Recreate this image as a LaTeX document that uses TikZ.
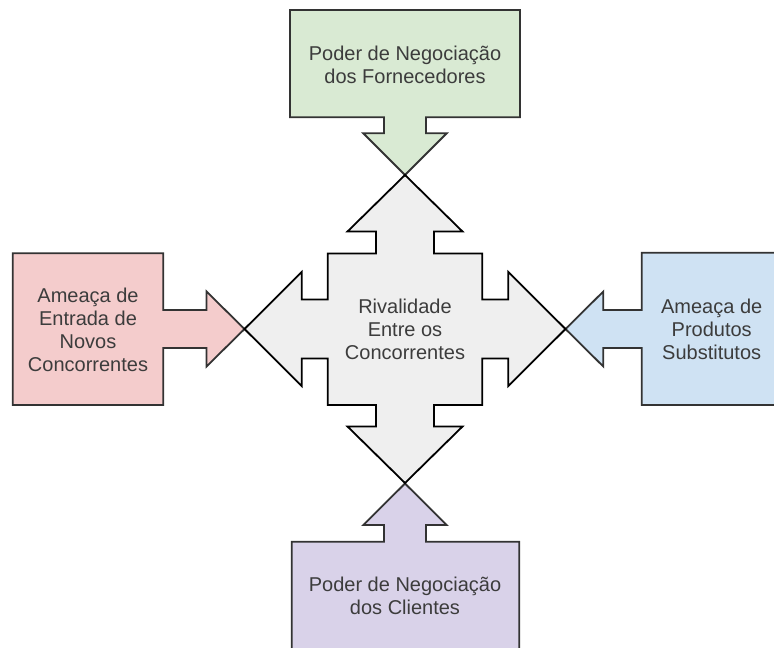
\documentclass[tikz,border=0pt]{standalone}
\usepackage{fontspec}
\setmainfont{Liberation Sans}
\definecolor{cgreen}{HTML}{D9EAD3}
\definecolor{cpink}{HTML}{F4CCCC}
\definecolor{cblue}{HTML}{CFE2F3}
\definecolor{cpurple}{HTML}{D9D2E9}
\definecolor{cgray}{HTML}{EFEFEF}
\definecolor{ctext}{HTML}{3C3C3C}
\definecolor{cedge}{HTML}{333333}
\tikzset{
  forcebox/.style={draw=cedge, line width=1.8pt, line join=miter},
  centershape/.style={draw=black, fill=cgray, line width=1.8pt, line join=miter},
  label/.style={text=ctext, align=center, font=\fontsize{20}{23}\selectfont, inner sep=0pt}
}
\begin{document}
\begin{tikzpicture}[x=1pt,y=-1pt]
\useasboundingbox (0,0) rectangle (774,648);
\begin{scope}
\clip (0,0) rectangle (774,648);
% top (green)
\path[forcebox, fill=cgreen] (290,10) -- (520,10) -- (520,117.3) -- (426,117.3) -- (426,133.3) -- (446.7,133.3) -- (405,175) -- (363.3,133.3) -- (384,133.3) -- (384,117.3) -- (290,117.3) -- cycle;
% bottom (purple)
\path[forcebox, fill=cpurple] (405,483.5) -- (446.7,525) -- (426,525) -- (426,541.7) -- (519.3,541.7) -- (519.3,670) -- (291.7,670) -- (291.7,541.7) -- (384,541.7) -- (384,525) -- (363.3,525) -- cycle;
% left (pink)
\path[forcebox, fill=cpink] (12.7,253.3) -- (163.3,253.3) -- (163.3,310) -- (206.5,310) -- (206.5,291.5) -- (244.5,329) -- (206.5,366.5) -- (206.5,348) -- (163.3,348) -- (163.3,405) -- (12.7,405) -- cycle;
% right (blue)
\path[forcebox, fill=cblue] (641.7,252.7) -- (800,252.7) -- (800,405) -- (641.7,405) -- (641.7,348) -- (603.3,348) -- (603.3,366.5) -- (565.5,329) -- (603.3,291.5) -- (603.3,310) -- (641.7,310) -- cycle;
% center shape
\path[centershape, shift={(405,329)}]
  (0,-154) -- (57.5,-97.5) -- (29,-97.5) -- (29,-75.5) -- (77.3,-75.5) -- (77.3,-29.5) -- (103.3,-29.5) -- (103.3,-57) -- (160.5,0)
  -- (103.3,57) -- (103.3,29.5) -- (77.3,29.5) -- (77.3,76) -- (29,76) -- (29,97.5) -- (57.5,97.5) -- (0,154)
  -- (-57.5,97.5) -- (-29,97.5) -- (-29,76) -- (-77.3,76) -- (-77.3,29.5) -- (-103.3,29.5) -- (-103.3,57) -- (-160.5,0)
  -- (-103.3,-57) -- (-103.3,-29.5) -- (-77.3,-29.5) -- (-77.3,-75.5) -- (-29,-75.5) -- (-29,-97.5) -- (-57.5,-97.5) -- cycle;
\end{scope}
\node[label] (top) at (405,64.5) {Poder de Negociação\\dos Fornecedores};
\node[label] (bottom) at (405,596) {Poder de Negociação\\dos Clientes};
\node[label] (left) at (88,329.5) {Ameaça de\\Entrada de\\Novos\\Concorrentes};
\node[label] (right) at (711.7,329.5) {Ameaça de\\Produtos\\Substitutos};
\node[label] (center) at (405,329.5) {Rivalidade\\Entre os\\Concorrentes};
\end{tikzpicture}
\end{document}
